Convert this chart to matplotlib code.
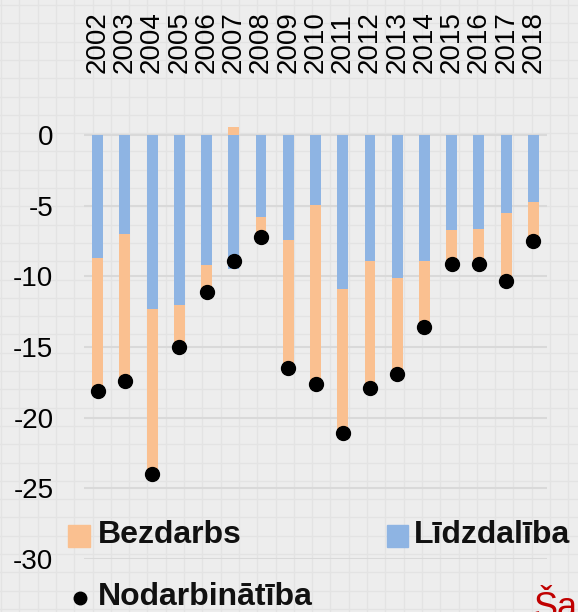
import matplotlib
matplotlib.use('Agg')
import matplotlib.pyplot as plt
from matplotlib.patches import Rectangle
from matplotlib.lines import Line2D

# Data (percentage points)
YEARS = [str(y) for y in range(2002, 2019)]
LIDZDALIBA = [-8.7, -7.0, -12.3, -12.0, -9.2, -9.5, -5.8, -7.4, -4.9,
              -10.9, -8.9, -10.1, -8.9, -6.7, -6.65, -5.5, -4.7]
BEZDARBS = [-9.4, -10.4, -11.7, -3.0, -1.9, 0.6, -1.4, -9.1, -12.7,
            -10.2, -9.0, -6.8, -4.7, -2.4, -2.45, -4.8, -2.8]
NODARBINATIBA = [-18.1, -17.4, -24.0, -15.0, -11.1, -8.9, -7.2, -16.5, -17.6,
                 -21.1, -17.9, -16.9, -13.6, -9.1, -9.1, -10.3, -7.5]
YTICKS = [0, -5, -10, -15, -20, -25, -30]

BLUE = "#8eb4e3"
ORANGE = "#fac090"
BG = "#ededed"
W, H = 578, 612

fig = plt.figure(figsize=(W / 100, H / 100), dpi=100, facecolor=BG)

# faint slide background pattern
bg = fig.add_axes([0, 0, 1, 1], zorder=-10)
bg.set_xlim(0, W)
bg.set_ylim(H, 0)
bg.axis('off')
step = 18.3
k = 0
while k * step < max(W, H):
    bg.axvline(1 + k * step, color="#e3e3e3", linewidth=1.0)
    bg.axhline(5 + k * step, color="#e3e3e3", linewidth=1.0)
    k += 1

ax = fig.add_axes([84 / W, (H - 558.7) / H, (547 - 84) / W, (558.7 - 114.2) / H])
ax.set_facecolor("none")
x = list(range(len(YEARS)))

# stacked bars: negative parts stack below zero, positive parts above
for i in x:
    b = LIDZDALIBA[i]
    u = BEZDARBS[i]
    ax.bar(i, b, width=0.4, color=BLUE, zorder=2)
    if u < 0:
        ax.bar(i, u, width=0.4, bottom=b, color=ORANGE, zorder=2)
    else:
        ax.bar(i, u, width=0.4, bottom=0, color=ORANGE, zorder=2)

ax.plot(x, NODARBINATIBA, 'o', color="black", markersize=10, zorder=3)

ax.set_xlim(-0.5, len(YEARS) - 0.5)
ax.set_ylim(-30, 1.5)
ax.set_yticks(YTICKS)
ax.set_yticklabels([str(t) for t in YTICKS], family="Liberation Sans", fontsize=20)
ax.grid(axis='y', color="#d9d9d9", linewidth=1.5, zorder=0)
ax.set_axisbelow(True)

ax.xaxis.tick_top()
ax.set_xticks(x)
ax.set_xticklabels(YEARS, rotation=90, family="Liberation Sans", fontsize=20)
ax.tick_params(axis='both', length=0)
ax.tick_params(axis='x', pad=30)
ax.tick_params(axis='y', pad=22)
for s in ax.spines.values():
    s.set_visible(False)

# legend drawn in pixel coordinates of the figure
def fx(px):
    return px / W

def fy(py):
    return (H - py) / H

lg = dict(family="Liberation Sans", fontsize=23, fontweight="bold",
          va="center", ha="left", color="#111111")
fig.add_artist(Rectangle((fx(68), fy(547)), 22 / W, 22 / H,
                         transform=fig.transFigure, color=ORANGE))
fig.text(fx(98), fy(535), "Bezdarbs", **lg)
fig.add_artist(Rectangle((fx(387), fy(547)), 21 / W, 22 / H,
                         transform=fig.transFigure, color=BLUE))
fig.text(fx(414), fy(535), "Līdzdalība", **lg)
fig.add_artist(Line2D([fx(80)], [fy(598)], marker='o', markersize=9,
                      color="black", transform=fig.transFigure))
fig.text(fx(98), fy(597), "Nodarbinātība", **lg)

# partly visible caption from the surrounding slide
fig.text(fx(533), fy(618), "Šai", family="Liberation Sans", fontsize=26,
         color="#c00000", va="baseline", ha="left")

fig.savefig("out.png", dpi=100, facecolor=BG)
